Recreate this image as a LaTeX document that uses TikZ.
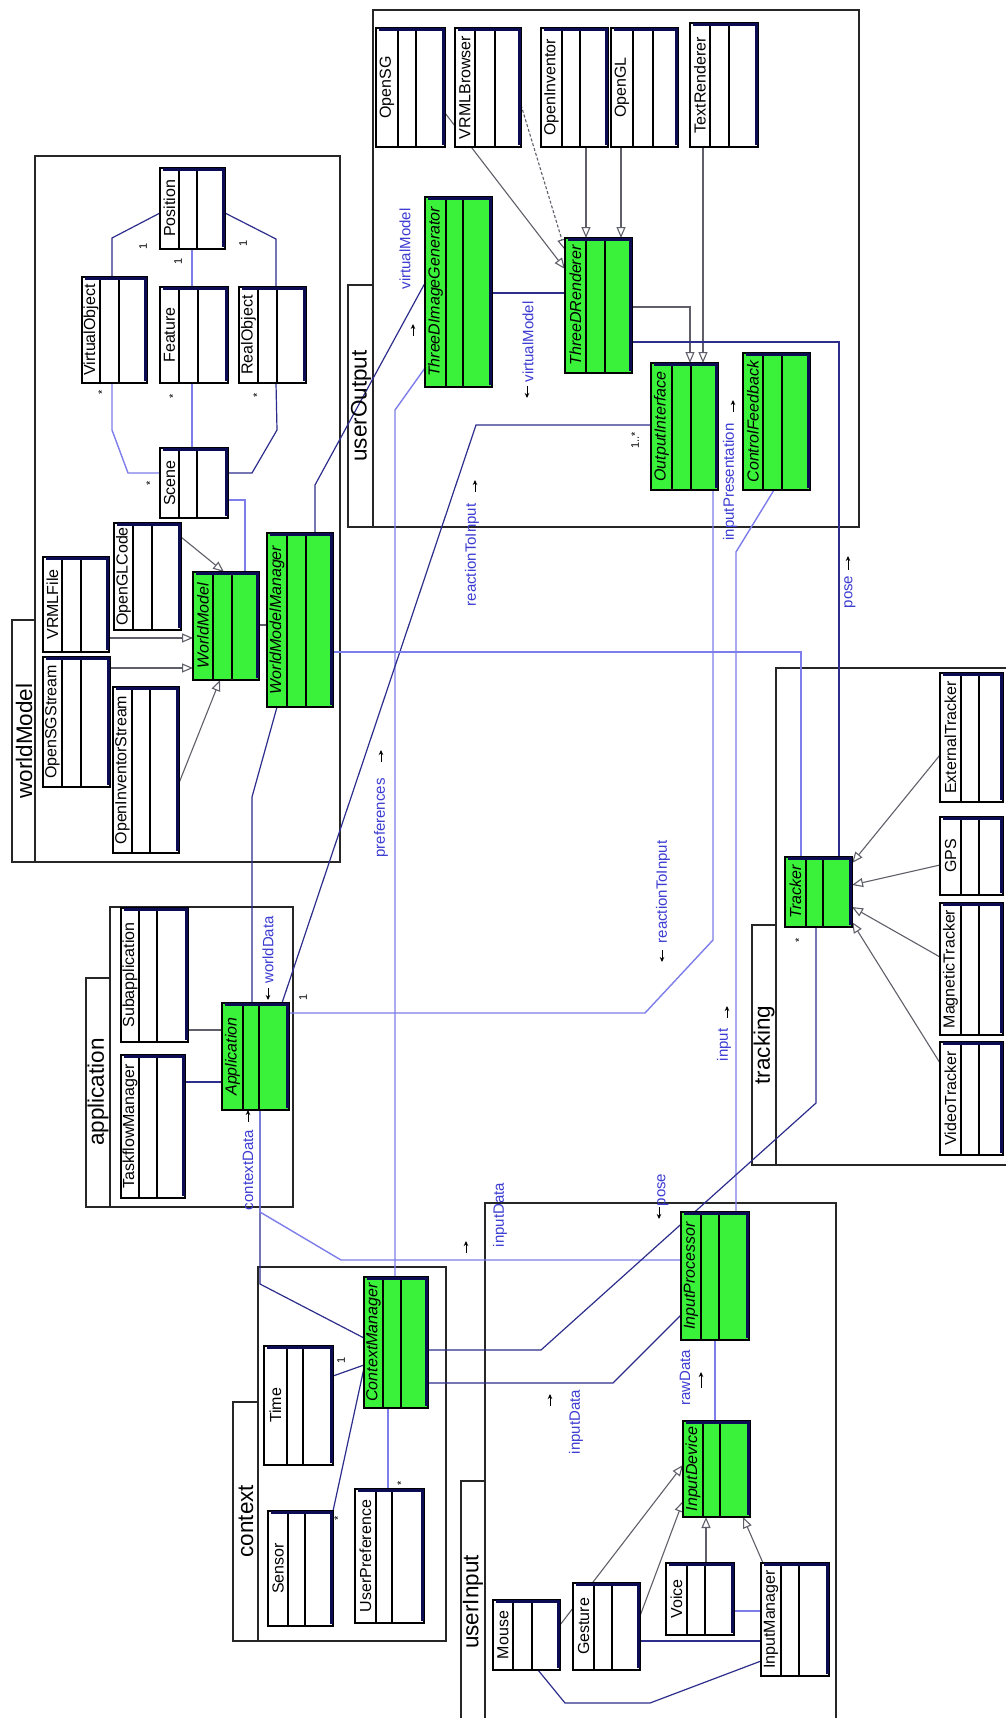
\documentclass[tikz,border=0pt]{standalone}
\usepackage{fontspec}
\setmainfont{Liberation Sans}
\usetikzlibrary{arrows.meta}

\definecolor{clsgreen}{RGB}{58,242,58}
\definecolor{shadownavy}{RGB}{12,12,85}
\definecolor{assocnavy}{RGB}{45,45,140}
\definecolor{assoclight}{RGB}{125,125,235}
\definecolor{genline}{RGB}{95,95,105}
\definecolor{labelblue}{RGB}{60,60,210}

\pgfdeclarelayer{pkglayer}
\pgfdeclarelayer{connlayer}
\pgfsetlayers{pkglayer,connlayer,main}

\tikzset{
  pkg/.style={draw=black!85, line width=1.6pt},
  clsbox/.style={draw=black, line width=1.4pt, inner sep=0pt, outer sep=0pt, rectangle},
  clsdiv/.style={draw=black, line width=1.3pt},
  clsshadow/.style={draw=shadownavy, line width=3.2pt},
  clsname/.style={rotate=90, font=\fontsize{16}{16}\selectfont, inner sep=0pt},
  pkglabel/.style={rotate=90, font=\fontsize{22.5}{22.5}\selectfont, inner sep=0pt},
  assoc/.style={draw=assocnavy, line width=1.2pt},
  assocl/.style={draw=assoclight, line width=1.4pt},
  gen/.style={draw=genline, line width=1.1pt, -{Triangle[open, length=11pt, width=9pt, fill=white]}},
  gendash/.style={gen, dash pattern=on 3pt off 2pt},
  lbl/.style={rotate=90, text=labelblue, font=\fontsize{15}{15}\selectfont, inner sep=0pt},
  mult/.style={rotate=90, font=\fontsize{11}{11}\selectfont, inner sep=0pt},
  navarrow/.style={draw=black, line width=1pt, -{Stealth[length=5pt,width=4.5pt]}},
}

% class box: [fill]{id}{x1}{y1}{x2}{y2}{divider1}{divider2}{name}
\newcommand{\umlclass}[9][white]{%
  \node[clsbox, fill=#1, minimum width={(#5-#3)*1pt}, minimum height={(#6-#4)*1pt}] (#2) at ({(#3+#5)/2},{(#4+#6)/2}) {};
  \draw[clsdiv] (#7,#4) -- (#7,#6) (#8,#4) -- (#8,#6);
  \draw[clsshadow] ({#3+3},{#4+1.5}) -- ({#5-1.5},{#4+1.5}) -- ({#5-1.5},{#6-2});
  \node[clsname] (#2-name) at ({(#3+#7)/2},{(#4+#6)/2}) {#9};
}

\begin{document}
\begin{tikzpicture}[x=1pt,y=-1pt]
\useasboundingbox (0,0) rectangle (1006,1718);
\clip (0,0) rectangle (1006,1718);

% ---------------- classes: worldModel
\umlclass{position}{160}{168}{225}{249}{179}{197}{Position}
\umlclass{virtualobject}{82}{277}{147}{383}{100}{119}{VirtualObject}
\umlclass{feature}{160}{287}{228}{383}{179}{198}{Feature}
\umlclass{realobject}{239}{287}{306}{383}{258}{277}{RealObject}
\umlclass{scene}{160}{448}{228}{518}{179}{197}{Scene}
\umlclass{openglcode}{114}{523}{181}{630}{133}{152}{OpenGLCode}
\umlclass{vrmlfile}{43}{557}{109}{652}{62}{81}{VRMLFile}
\umlclass{opensgstream}{43}{657}{110}{787}{62}{81}{OpenSGStream}
\umlclass{openinventorstream}{113}{687}{179}{853}{132}{150}{OpenInventorStream}
\umlclass[clsgreen]{worldmodel}{193}{572}{259}{680}{213}{232}{\itshape WorldModel}
\umlclass[clsgreen]{worldmodelmanager}{267}{533}{333}{707}{287}{306}{\itshape WorldModelManager}

% ---------------- classes: userOutput
\umlclass{opensg}{376}{28}{445}{147}{398}{416}{OpenSG}
\umlclass{vrmlbrowser}{455}{28}{521}{147}{475}{495}{VRMLBrowser}
\umlclass{openinventor}{541}{28}{608}{147}{562}{580}{OpenInventor}
\umlclass{opengl}{611}{28}{678}{147}{633}{653}{OpenGL}
\umlclass{textrenderer}{690}{23}{758}{147}{710}{729}{TextRenderer}
\umlclass[clsgreen]{threedimagegenerator}{425}{197}{492}{387}{446}{463}{\itshape ThreeDImageGenerator}
\umlclass[clsgreen]{threedrenderer}{565}{238}{632}{373}{586}{605}{\itshape ThreeDRenderer}
\umlclass[clsgreen]{outputinterface}{651}{363}{718}{490}{672}{691}{\itshape OutputInterface}
\umlclass[clsgreen]{controlfeedback}{743}{353}{810}{490}{763}{782}{\itshape ControlFeedback}

% ---------------- classes: application
\umlclass{taskflowmanager}{121}{1055}{185}{1198}{139}{157}{TaskflowManager}
\umlclass{subapplication}{121}{908}{188}{1042}{139}{157}{Subapplication}
\umlclass[clsgreen]{application}{222}{1003}{289}{1110}{243}{259}{\itshape Application}

% ---------------- classes: tracking
\umlclass[clsgreen]{tracker}{785}{857}{852}{927}{806}{823}{\itshape Tracker}
\umlclass{externaltracker}{940}{673}{1003}{802}{961}{979}{ExternalTracker}
\umlclass{gps}{940}{817}{1003}{895}{961}{979}{GPS}
\umlclass{magnetictracker}{940}{903}{1003}{1035}{961}{979}{MagneticTracker}
\umlclass{videotracker}{940}{1042}{1003}{1155}{961}{979}{VideoTracker}

% ---------------- classes: context
\umlclass{time}{264}{1346}{333}{1465}{287}{303}{Time}
\umlclass{sensor}{268}{1511}{333}{1626}{288}{305}{Sensor}
\umlclass{userpreference}{355}{1489}{424}{1623}{376}{392}{UserPreference}
\umlclass[clsgreen]{contextmanager}{364}{1277}{428}{1408}{383}{401}{\itshape ContextManager}

% ---------------- classes: userInput
\umlclass{mouse}{493}{1600}{560}{1670}{513}{532}{Mouse}
\umlclass{gesture}{573}{1583}{640}{1670}{594}{612}{Gesture}
\umlclass{voice}{666}{1563}{734}{1635}{687}{705}{Voice}
\umlclass{inputmanager}{761}{1563}{829}{1676}{781}{799}{InputManager}
\umlclass[clsgreen]{inputdevice}{683}{1421}{750}{1517}{703}{720}{\itshape InputDevice}
\umlclass[clsgreen]{inputprocessor}{681}{1212}{749}{1340}{701}{719}{\itshape InputProcessor}

% ---------------- packages
\begin{pgfonlayer}{pkglayer}
\fill[white] (0,0) rectangle (1006,1718);
\draw[pkg] (35,156) rectangle (340,862);
\draw[pkg] (12,620) rectangle (35,862);
\draw[pkg] (373,10) rectangle (859,527);
\draw[pkg] (348,285) rectangle (373,527);
\draw[pkg] (110,907) rectangle (293,1207);
\draw[pkg] (86,978) rectangle (110,1207);
\draw[pkg] (258,1267) rectangle (446,1641);
\draw[pkg] (233,1402) rectangle (258,1641);
\draw[pkg] (776,668) rectangle (1012,1165);
\draw[pkg] (752,925) rectangle (776,1165);
\draw[pkg] (485,1203) rectangle (836,1730);
\draw[pkg] (461,1481) rectangle (485,1730);
\end{pgfonlayer}
\node[pkglabel] (pkg-worldmodel) at (24,741) {worldModel};
\node[pkglabel] (pkg-useroutput) at (361,406) {userOutput};
\node[pkglabel] (pkg-application) at (98,1092) {application};
\node[pkglabel] (pkg-context) at (246,1521) {context};
\node[pkglabel] (pkg-tracking) at (764,1045) {tracking};
\node[pkglabel] (pkg-userinput) at (473,1602) {userInput};

% ---------------- connectors
\begin{pgfonlayer}{connlayer}
% worldModel internals
\draw[assoc] (position.west |- 0,213) -- (112,238) -- (virtualobject.north -| 112,0);
\draw[assocl] (position.south -| 192,0) -- (feature.north -| 192,0);
\draw[assoc] (position.east |- 0,213) -- (276,239) -- (realobject.north -| 276,0);
\draw[assocl] (virtualobject.south -| 112,0) -- (112,430) -- (128,473) -- (scene.west |- 0,473);
\draw[assocl] (feature.south -| 192,0) -- (scene.north -| 192,0);
\draw[assoc] (realobject.south -| 276,0) -- (277,430) -- (252,473) -- (scene.east |- 0,473);
\draw[assocl] (scene.east |- 0,500) -- (245,500) -- (worldmodel.north -| 245,0);
\draw[gen] (openglcode.east |- 0,537) -- (worldmodel.north -| 224,0);
\draw[gen] (vrmlfile.east |- 0,638) -- (worldmodel.west |- 0,638);
\draw[gen] (opensgstream.east |- 0,668) -- (worldmodel.west |- 0,668);
\draw[gen] (openinventorstream.east |- 0,783) -- (worldmodel.south -| 220,0);
\draw[genline, line width=1.1pt] (worldmodel.east |- 0,625) -- (worldmodelmanager.west |- 0,625);

% userOutput internals
\draw[gen] (opensg.east |- 0,113) -- (threedrenderer.west |- 0,269);
\draw[gendash] (vrmlbrowser.east |- 0,105) -- (threedrenderer.west |- 0,250);
\draw[gen] (openinventor.south -| 586,0) -- (threedrenderer.north -| 586,0);
\draw[gen] (opengl.south -| 621,0) -- (threedrenderer.north -| 621,0);
\draw[gen] (textrenderer.south -| 703,0) -- (outputinterface.north -| 703,0);
\draw[gen] (threedrenderer.east |- 0,307) -- (690,307) -- (outputinterface.north -| 690,0);
\draw[assoc] (threedimagegenerator.east |- 0,293) -- (threedrenderer.west |- 0,293);

% cross-package associations
\draw[assoc] (worldmodelmanager.north -| 315,0) -- (315,485) -- (threedimagegenerator.west |- 0,283);
\draw[assocl] (contextmanager.north -| 395,0) -- (395,410) -- (threedimagegenerator.west |- 0,368);
\draw[assoc] (threedrenderer.east |- 0,342) -- (839,342) -- (tracker.north -| 839,0);
\draw[assoc] (application.north -| 282,0) -- (476,425) -- (outputinterface.west |- 0,425);
\draw[assocl] (application.east |- 0,1013) -- (645,1013) -- (713,940) -- (outputinterface.south -| 713,0);
\draw[assocl] (controlfeedback.south -| 774,0) -- (736,552) -- (inputprocessor.north -| 736,0);
\draw[assocl] (worldmodelmanager.east |- 0,652) -- (801,652) -- (tracker.north -| 801,0);
\draw[assoc] (worldmodelmanager.south -| 277,0) -- (252,797) -- (application.north -| 252,0);
\draw[genline, line width=1.1pt] (subapplication.east |- 0,1030) -- (application.west |- 0,1030);
\draw[assoc] (taskflowmanager.east |- 0,1082) -- (application.west |- 0,1082);
\draw[assoc] (application.south -| 260,0) -- (260,1284) -- (contextmanager.west |- 0,1338);
\draw[assocl] (application.south -| 260,0) -- (260,1212) -- (341,1260) -- (inputprocessor.west |- 0,1260);
\draw[assoc] (tracker.south -| 816,0) -- (816,1103) -- (541,1350) -- (contextmanager.east |- 0,1350);
\draw[assoc] (contextmanager.east |- 0,1383) -- (613,1383) -- (inputprocessor.west |- 0,1315);

% context internals
\draw[assoc] (time.east |- 0,1376) -- (contextmanager.west |- 0,1365);
\draw[assoc] (sensor.north east) -- (contextmanager.west |- 0,1368);
\draw[assocl] (contextmanager.south -| 388,0) -- (userpreference.north -| 388,0);

% tracking internals
\draw[gen] (externaltracker.west |- 0,755) -- (tracker.east |- 0,863);
\draw[gen] (gps.west |- 0,865) -- (tracker.east |- 0,885);
\draw[gen] (magnetictracker.west |- 0,957) -- (tracker.east |- 0,907);
\draw[gen] (videotracker.west |- 0,1063) -- (tracker.east |- 0,922);

% userInput internals
\draw[assocl] (inputdevice.north -| 715,0) -- (inputprocessor.south -| 715,0);
\draw[gen] (voice.north -| 706,0) -- (inputdevice.south -| 706,0);
\draw[gen] (inputmanager.north -| 763,0) -- (inputdevice.south -| 743,0);
\draw[gen] (mouse.east |- 0,1625) -- (inputdevice.west |- 0,1465);
\draw[gen] (gesture.east |- 0,1616) -- (inputdevice.west |- 0,1501);
\draw[assoc] (gesture.east |- 0,1641) -- (inputmanager.west |- 0,1641);
\draw[assoc] (mouse.south -| 538,0) -- (565,1703) -- (650,1703) -- (inputmanager.west |- 0,1661);
\draw[assocl] (voice.east |- 0,1611) -- (inputmanager.west |- 0,1611);
\end{pgfonlayer}

% ---------------- multiplicities
\node[mult] (m1) at (143,246) {1};
\node[mult] (m2) at (178,261) {1};
\node[mult] (m3) at (243,243) {1};
\node[mult] (m4) at (102,392) {*};
\node[mult] (m5) at (173,396) {*};
\node[mult] (m6) at (257,395) {*};
\node[mult] (m7) at (150,483) {*};
\node[mult] (m8) at (303,997) {1};
\node[mult] (m9) at (635,440) {1..*};
\node[mult] (m10) at (341,1360) {1};
\node[mult] (m11) at (338,1518) {*};
\node[mult] (m12) at (401,1483) {*};
\node[mult] (m13) at (799,940) {*};

% ---------------- association names
\node[lbl] (l1) at (405,249) {virtualModel};
\node[lbl] (l2) at (528,342) {virtualModel};
\node[lbl] (l3) at (381,818) {preferences};
\node[lbl] (l4) at (472,555) {reactionToInput};
\node[lbl] (l5) at (663,892) {reactionToInput};
\node[lbl] (l6) at (730,482) {inputPresentation};
\node[lbl] (l7) at (850,592) {pose};
\node[lbl] (l8) at (268,950) {worldData};
\node[lbl] (l9) at (248,1170) {contextData};
\node[lbl] (l10) at (724,1045) {input};
\node[lbl] (l11) at (500,1215) {inputData};
\node[lbl] (l12) at (663,1190) {pose};
\node[lbl] (l13) at (576,1422) {inputData};
\node[lbl] (l14) at (685,1378) {rawData};

% direction marks of the association names
\draw[navarrow] (413,336) -- (413,324);
\draw[navarrow] (527,386) -- (527,398);
\draw[navarrow] (381,762) -- (381,750);
\draw[navarrow] (475,492) -- (475,480);
\draw[navarrow] (662,950) -- (662,962);
\draw[navarrow] (733,412) -- (733,400);
\draw[navarrow] (848,570) -- (848,556);
\draw[navarrow] (268,988) -- (268,1000);
\draw[navarrow] (248,1122) -- (248,1110);
\draw[navarrow] (727,1018) -- (727,1006);
\draw[navarrow] (466,1253) -- (466,1241);
\draw[navarrow] (659,1207) -- (659,1219);
\draw[navarrow] (550,1406) -- (550,1394);
\draw[navarrow] (701,1388) -- (701,1372);
\end{tikzpicture}
\end{document}
